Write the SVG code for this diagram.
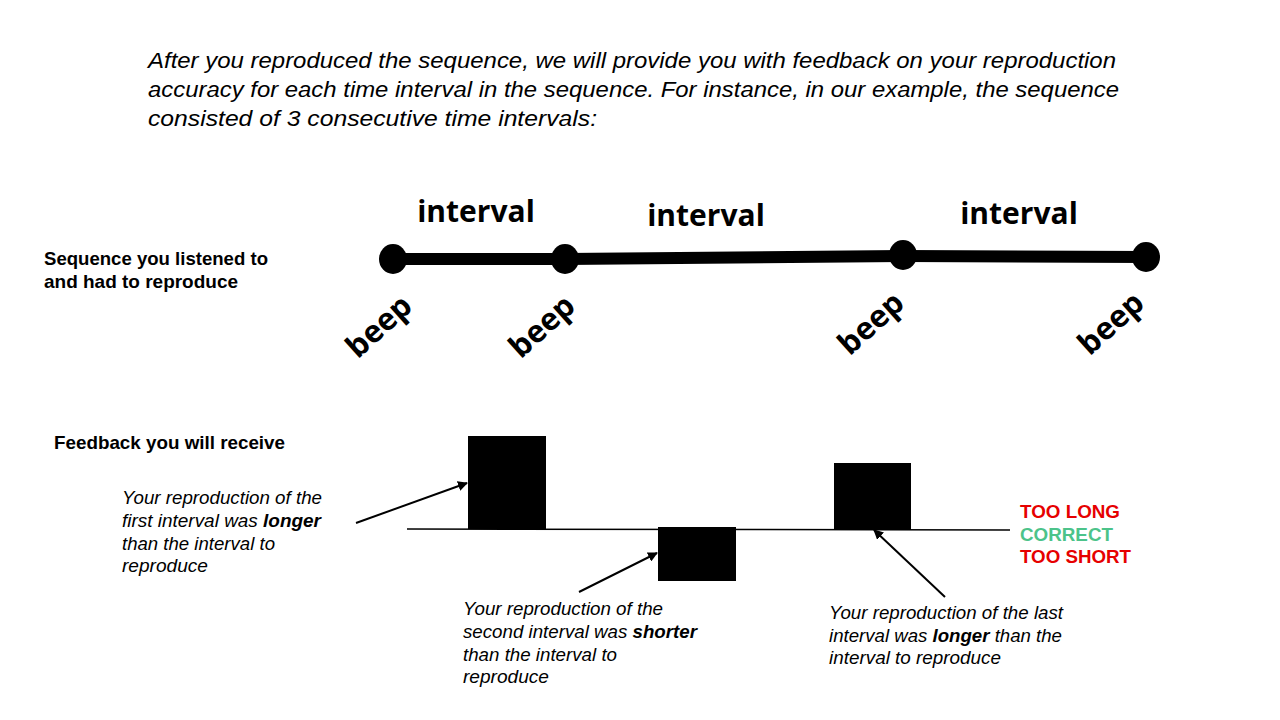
<svg xmlns="http://www.w3.org/2000/svg" width="1280" height="720" viewBox="0 0 1280 720">
<defs>
<style>
.intro{font-family:"Liberation Sans Narrow","Liberation Sans",Arial,sans-serif;font-style:italic;font-size:22px;fill:#000}
.iv{font-family:"Open Sans","Noto Sans",sans-serif;font-weight:bold;font-size:30px;fill:#000}
.beep{font-family:"Open Sans","Noto Sans",sans-serif;font-weight:bold;font-size:31px;fill:#000}
.lbl{font-family:"Liberation Sans",Arial,sans-serif;font-weight:bold;font-size:18.5px;fill:#000}
.note{font-family:"Liberation Sans",Arial,sans-serif;font-style:italic;font-size:18.5px;fill:#000}
.note tspan.b{font-weight:bold}
.leg{font-family:"Liberation Sans",Arial,sans-serif;font-weight:bold;font-size:18.5px}
.conn{stroke:#000;stroke-width:2;fill:none}
</style>
<marker id="ah" viewBox="0 0 10 10" refX="9" refY="5" markerWidth="5" markerHeight="5" orient="auto-start-reverse" markerUnits="strokeWidth">
<path d="M0,0 L10,5 L0,10 z" fill="#000"/>
</marker>
</defs>
<rect width="1280" height="720" fill="#fff"/>

<g id="intro">
<text class="intro" x="148" y="68" textLength="968" lengthAdjust="spacingAndGlyphs">After you reproduced the sequence, we will provide you with feedback on your reproduction</text>
<text class="intro" x="148" y="97" textLength="971" lengthAdjust="spacingAndGlyphs">accuracy for each time interval in the sequence.  For instance, in our example, the sequence</text>
<text class="intro" x="148" y="126" textLength="449" lengthAdjust="spacingAndGlyphs">consisted of 3 consecutive time intervals:</text>
</g>

<g id="seq-label">
<text class="lbl" x="44" y="265" textLength="224" lengthAdjust="spacingAndGlyphs">Sequence you listened to</text>
<text class="lbl" x="44" y="288" textLength="194" lengthAdjust="spacingAndGlyphs">and had to reproduce</text>
</g>

<g id="timeline">
<path d="M393,259 L565,259 L903,256 L1146,257" stroke="#000" stroke-width="12" fill="none"/>
<ellipse cx="393" cy="259" rx="14" ry="15" fill="#000"/>
<ellipse cx="565" cy="259" rx="14" ry="15" fill="#000"/>
<ellipse cx="903" cy="255" rx="14" ry="15" fill="#000"/>
<ellipse cx="1146" cy="257" rx="14" ry="15" fill="#000"/>
<text class="iv" x="476" y="222" text-anchor="middle">interval</text>
<text class="iv" x="706" y="226" text-anchor="middle">interval</text>
<text class="iv" x="1019" y="224" text-anchor="middle">interval</text>
<text class="beep" transform="translate(386,334) rotate(-42)" text-anchor="middle">beep</text>
<text class="beep" transform="translate(549,334) rotate(-42)" text-anchor="middle">beep</text>
<text class="beep" transform="translate(878,331) rotate(-42)" text-anchor="middle">beep</text>
<text class="beep" transform="translate(1118,331) rotate(-42)" text-anchor="middle">beep</text>
</g>

<g id="feedback-label">
<text class="lbl" x="54" y="449" textLength="231" lengthAdjust="spacingAndGlyphs">Feedback you will receive</text>
</g>

<g id="baseline">
<line x1="407" y1="529" x2="1010" y2="530" stroke="#000" stroke-width="1.5"/>
</g>

<g id="bar1"><rect x="468" y="436" width="78" height="93" fill="#000"/></g>
<g id="bar2"><rect x="658" y="527" width="78" height="54" fill="#000"/></g>
<g id="bar3"><rect x="834" y="463" width="77" height="67" fill="#000"/></g>

<g id="connectors">
<line class="conn" x1="356" y1="523" x2="467" y2="483" marker-end="url(#ah)"/>
<line class="conn" x1="579" y1="592" x2="657" y2="553" marker-end="url(#ah)"/>
<line class="conn" x1="945" y1="597" x2="874" y2="530" marker-end="url(#ah)"/>
</g>

<g id="note1">
<text class="note" x="122" y="504" textLength="200" lengthAdjust="spacingAndGlyphs">Your reproduction of the</text>
<text class="note" x="122" y="527" textLength="199" lengthAdjust="spacingAndGlyphs">first interval was <tspan class="b">longer</tspan></text>
<text class="note" x="122" y="550" textLength="153" lengthAdjust="spacingAndGlyphs">than the interval to</text>
<text class="note" x="122" y="572" textLength="86" lengthAdjust="spacingAndGlyphs">reproduce</text>
</g>

<g id="note2">
<text class="note" x="463" y="615" textLength="200" lengthAdjust="spacingAndGlyphs">Your reproduction of the</text>
<text class="note" x="463" y="638" textLength="234" lengthAdjust="spacingAndGlyphs">second interval was <tspan class="b">shorter</tspan></text>
<text class="note" x="463" y="661" textLength="154" lengthAdjust="spacingAndGlyphs">than the interval to</text>
<text class="note" x="463" y="683" textLength="86" lengthAdjust="spacingAndGlyphs">reproduce</text>
</g>

<g id="note3">
<text class="note" x="829" y="619" textLength="234" lengthAdjust="spacingAndGlyphs">Your reproduction of the last</text>
<text class="note" x="829" y="642" textLength="233" lengthAdjust="spacingAndGlyphs">interval was <tspan class="b">longer</tspan> than the</text>
<text class="note" x="829" y="664" textLength="172" lengthAdjust="spacingAndGlyphs">interval to reproduce</text>
</g>

<g id="legend">
<text class="leg" x="1020" y="518" fill="#e60000" textLength="100" lengthAdjust="spacingAndGlyphs">TOO LONG</text>
<text class="leg" x="1020" y="541" fill="#4cc38a" textLength="93" lengthAdjust="spacingAndGlyphs">CORRECT</text>
<text class="leg" x="1020" y="563" fill="#e60000" textLength="111" lengthAdjust="spacingAndGlyphs">TOO SHORT</text>
</g>
</svg>
